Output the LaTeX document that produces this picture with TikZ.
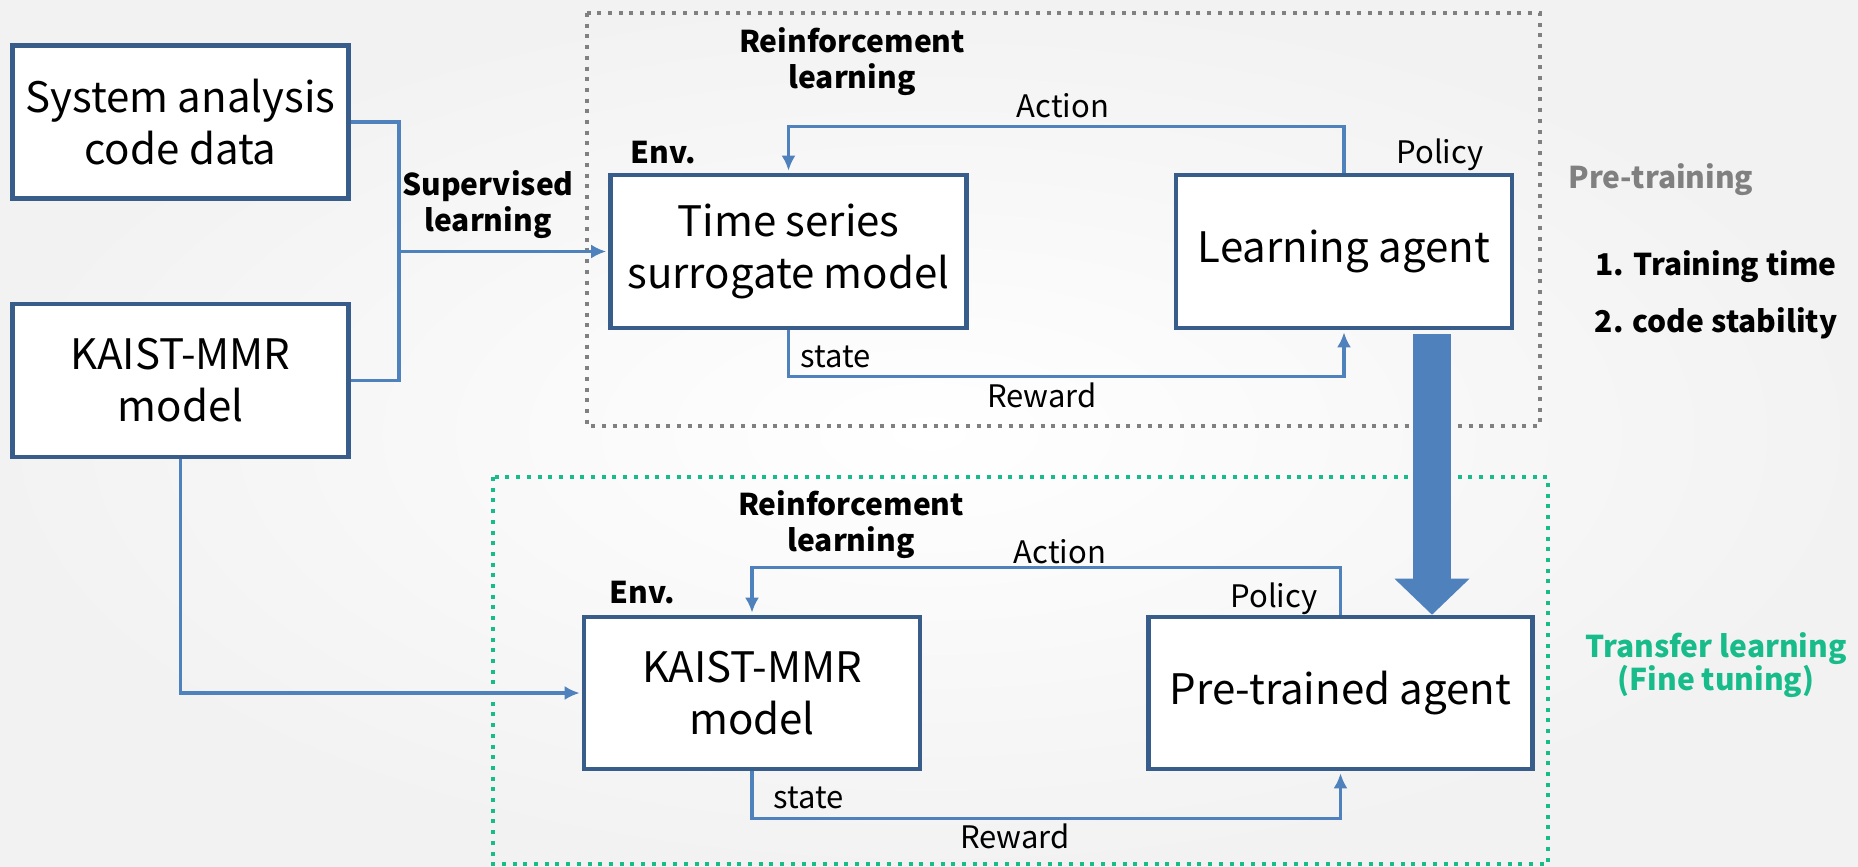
\documentclass[tikz,border=0pt]{standalone}
\usepackage{fontspec}
\setmainfont{Noto Sans CJK KR}
\usetikzlibrary{arrows.meta}
\definecolor{boxblue}{RGB}{56,93,138}
\definecolor{linkblue}{RGB}{79,129,189}
\definecolor{dotgray}{RGB}{128,128,128}
\definecolor{tlgreen}{RGB}{24,187,138}
\tikzset{>={Latex[length=7.5pt,width=7pt]}}
\tikzset{block/.style = {shape=rectangle,draw=boxblue,line width=2.3pt,fill=white,align=center,inner sep=0pt,font=\fontsize{21}{26}\selectfont}}
\tikzset{wire/.style = {draw=linkblue,line width=1.7pt}}
\tikzset{link/.style = {wire,->,shorten >=1pt}}
\tikzset{lbl/.style = {inner sep=0pt,font=\fontsize{15.5}{19}\selectfont}}
\tikzset{boldlbl/.style = {inner sep=0pt,align=center,font=\fontsize{15}{18}\selectfont\bfseries}}
\tikzset{sidelbl/.style = {inner sep=0pt,align=center,font=\fontsize{15}{16.5}\selectfont\bfseries}}
\tikzset{groupframe/.style = {line width=2pt,dash pattern=on 2pt off 3.35pt}}
\tikzset{bigarrow/.style = {draw=linkblue,line width=19pt,-{Triangle[width=37.5pt,length=18pt,line width=0pt]}}}

\begin{document}
\begin{tikzpicture}[x=0.5pt,y=-0.5pt]
            \useasboundingbox (0,0) rectangle (1858,867);
            \shade[inner color=white,outer color=black!5] (0,0) rectangle (1858,867);

            % Groups
            \draw[groupframe,draw=dotgray] (587,13) rectangle (1540,426);
            \draw[groupframe,draw=tlgreen] (493,477) rectangle (1548,864);

            % Blocks
            \node[block,minimum width=168pt,minimum height=76.5pt] (sad) at (180.5,122) {System analysis\\code data};
            \node[block,minimum width=168pt,minimum height=76.5pt] (kaist) at (180.5,380.5) {KAIST-MMR\\model};
            \node[block,minimum width=178pt,minimum height=76.5pt] (ts) at (788.5,251.5) {Time series\\surrogate model};
            \node[block,minimum width=168pt,minimum height=76.5pt] (la) at (1344,251.5) {Learning agent};
            \node[block,minimum width=168pt,minimum height=76pt] (env) at (752,693) {KAIST-MMR\\model};
            \node[block,minimum width=192pt,minimum height=76pt] (pta) at (1340.5,693) {Pre-trained agent};

            % Labels
            % pre-training loop
            \node[boldlbl] (rl1) at (852,62) {Reinforcement\\learning};
            \node[boldlbl,anchor=base west] (env1) at (630,163) {Env.};
            \node[lbl,anchor=base] (act1) at (1063,117) {Action};
            \node[lbl,anchor=base] (pol1) at (1440,163) {Policy};
            \node[lbl,anchor=base west] (st1) at (800,367) {state};
            \node[lbl,anchor=base] (rw1) at (1042,407) {Reward};
            \node[boldlbl] (sl) at (488,205) {Supervised\\learning};

            % fine tuning loop
            \node[boldlbl] (rl2) at (851,525) {Reinforcement\\learning};
            \node[boldlbl,anchor=base west] (env2) at (609,603) {Env.};
            \node[lbl,anchor=base] (act2) at (1060,563) {Action};
            \node[lbl,anchor=base] (pol2) at (1274,607) {Policy};
            \node[lbl,anchor=base west] (st2) at (773,808) {state};
            \node[lbl,anchor=base] (rw2) at (1015,848) {Reward};

            % side notes
            \node[sidelbl,text=dotgray,anchor=base] (pre) at (1661,188) {Pre-training};
            \node[sidelbl,anchor=base] (t1) at (1716,275) {1. Training time};
            \node[sidelbl,anchor=base] (t2) at (1716,332) {2. code stability};
            \node[sidelbl,text=tlgreen] (tl) at (1716,665) {Transfer learning\\(Fine tuning)};

            % Edges
            % supervised learning
            \coordinate (merge) at (399,251.5);
            \draw[wire] (sad.east) -| (merge) |- (kaist.east);
            \draw[link] (merge) -- (ts.west);
            \draw[link] (kaist.south) |- (env.west);

            % surrogate loop
            \draw[link] (la.north) -- ++(0,-46) -| (ts.north);
            \draw[link] (ts.south) -- ++(0,46) -| (la.south);

            % real model loop
            \draw[link] (pta.north) -- ++(0,-47) -| (env.north);
            \draw[link] (env.south) -- ++(0,47) -| (pta.south);

            % transfer
            \draw[bigarrow,shorten <=2pt] ([xshift=44pt]la.south) -- ([xshift=44pt]la.south |- pta.north);

        \end{tikzpicture}
\end{document}
